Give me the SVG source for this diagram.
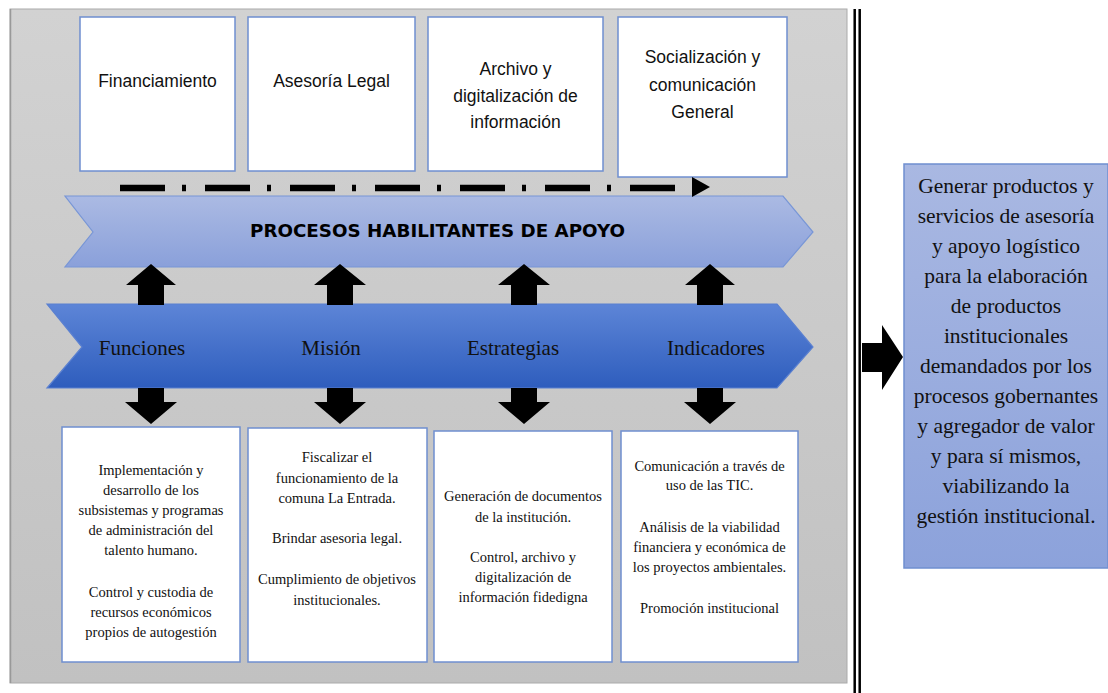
<svg xmlns="http://www.w3.org/2000/svg" width="1108" height="693" viewBox="0 0 1108 693">
<defs>
<linearGradient id="gFrame" x1="0" y1="0" x2="0" y2="1"><stop offset="0" stop-color="#d2d2d2"/><stop offset="1" stop-color="#c1c1c1"/></linearGradient>
<linearGradient id="gTop" x1="0" y1="0" x2="0" y2="1"><stop offset="0" stop-color="#abbae3"/><stop offset="1" stop-color="#8aa0da"/></linearGradient>
<linearGradient id="gMid" x1="0" y1="0" x2="0" y2="1"><stop offset="0" stop-color="#5d85d7"/><stop offset="1" stop-color="#2e5dbd"/></linearGradient>
<linearGradient id="gRight" x1="0" y1="0" x2="0" y2="1"><stop offset="0" stop-color="#a9b8e2"/><stop offset="1" stop-color="#8ca2db"/></linearGradient>
</defs>
<style>
.box{fill:#fff;stroke:#6f8fd0;stroke-width:1.5}
.tl{font-family:"Liberation Sans",Arial,sans-serif;font-size:17.5px;fill:#111;text-anchor:middle}
.sv{font-family:"Liberation Serif","Times New Roman",serif;font-size:14.5px;fill:#111;text-anchor:middle}
.lab{font-family:"Liberation Serif","Times New Roman",serif;font-size:21px;fill:#111;text-anchor:middle}
.rt{font-family:"Liberation Serif","Times New Roman",serif;font-size:21.5px;fill:#111;text-anchor:middle}
.ttl{font-family:"DejaVu Sans",sans-serif;font-weight:bold;font-size:17px;fill:#000;text-anchor:middle}
.blk{fill:#000}
</style>
<rect width="1108" height="693" fill="#fff"/>
<g id="frame">
<rect x="10" y="9" width="837" height="674" fill="url(#gFrame)" stroke="#aaaaaa" stroke-width="1"/>
<line x1="10.5" y1="9" x2="10.5" y2="683" stroke="#999" stroke-width="1.5"/>
<line x1="854.7" y1="9" x2="854.7" y2="693" stroke="#000" stroke-width="2.5"/>
<line x1="859.7" y1="9" x2="859.7" y2="693" stroke="#000" stroke-width="2.5"/>
</g>
<g id="n-financiamiento"><rect class="box" x="80" y="17" width="155" height="154"/><text class="tl" x="157.5" y="87">Financiamiento</text></g>
<g id="n-asesoria"><rect class="box" x="248" y="17" width="167" height="154"/><text class="tl" x="331.5" y="87">Asesoría Legal</text></g>
<g id="n-archivo"><rect class="box" x="428" y="17" width="175" height="154"/><text class="tl" x="515.5"><tspan x="515.5" y="75">Archivo y</tspan><tspan x="515.5" y="102">digitalización de</tspan><tspan x="515.5" y="128">información</tspan></text></g>
<g id="n-socializacion"><rect class="box" x="618" y="17" width="169" height="160"/><text class="tl" x="702.5"><tspan x="702.5" y="63">Socialización y</tspan><tspan x="702.5" y="91">comunicación</tspan><tspan x="702.5" y="118">General</tspan></text></g>
<g id="n-procesos"><path d="M65,196 L783,196 L813,232 L783,267 L65,267 L93,232 Z" fill="url(#gTop)" stroke="#7896d6" stroke-width="1.2"/><text class="ttl" x="437.5" y="237" textLength="375" lengthAdjust="spacingAndGlyphs">PROCESOS HABILITANTES  DE APOYO</text></g>
<g id="n-ejes"><path d="M47,304 L777,304 L813,347 L777,388 L47,388 L82,347 Z" fill="url(#gMid)" stroke="#5b80d0" stroke-width="1.2"/>
<text class="lab" x="142" y="355">Funciones</text>
<text class="lab" x="331" y="355">Misión</text>
<text class="lab" x="513" y="355">Estrategias</text>
<text class="lab" x="716" y="355">Indicadores</text></g>
<g id="n-funciones"><rect class="box" x="62" y="427" width="178" height="235"/>
<text class="sv"><tspan x="151" y="475">Implementación y</tspan><tspan x="151" y="495">desarrollo de los</tspan><tspan x="151" y="515">subsistemas y programas</tspan><tspan x="151" y="535">de administración del</tspan><tspan x="151" y="555">talento humano.</tspan><tspan x="151" y="597">Control y custodia de</tspan><tspan x="151" y="617">recursos económicos</tspan><tspan x="151" y="637">propios de autogestión</tspan></text></g>
<g id="n-mision"><rect class="box" x="248" y="428" width="179" height="234"/>
<text class="sv"><tspan x="337" y="462">Fiscalizar el</tspan><tspan x="337" y="483">funcionamiento de la</tspan><tspan x="337" y="503">comuna La Entrada.</tspan><tspan x="337" y="543">Brindar asesoria legal.</tspan><tspan x="337" y="584">Cumplimiento  de objetivos</tspan><tspan x="337" y="605">institucionales.</tspan></text></g>
<g id="n-estrategias"><rect class="box" x="434" y="431" width="178" height="231"/>
<text class="sv"><tspan x="523" y="501">Generación de documentos</tspan><tspan x="523" y="522">de la institución.</tspan><tspan x="523" y="562">Control, archivo y</tspan><tspan x="523" y="582">digitalización  de</tspan><tspan x="523" y="602">información fidedigna</tspan></text></g>
<g id="n-indicadores"><rect class="box" x="621" y="431" width="177" height="231"/>
<text class="sv"><tspan x="709.5" y="471">Comunicación a través de</tspan><tspan x="709.5" y="490">uso de las TIC.</tspan><tspan x="709.5" y="532">Análisis de la viabilidad</tspan><tspan x="709.5" y="552">financiera y económica de</tspan><tspan x="709.5" y="572">los proyectos ambientales.</tspan><tspan x="709.5" y="613">Promoción institucional</tspan></text></g>
<g id="n-resultado"><rect x="904" y="164" width="204" height="404" fill="url(#gRight)" stroke="#6f8fd0" stroke-width="1.5"/>
<text class="rt"><tspan x="1006" y="193">Generar productos y</tspan><tspan x="1006" y="223">servicios de asesoría</tspan><tspan x="1006" y="253">y apoyo logístico</tspan><tspan x="1006" y="283">para la elaboración</tspan><tspan x="1006" y="313">de productos</tspan><tspan x="1006" y="343">institucionales</tspan><tspan x="1006" y="373">demandados por los</tspan><tspan x="1006" y="403">procesos gobernantes</tspan><tspan x="1006" y="433">y agregador  de valor</tspan><tspan x="1006" y="463">y para sí mismos,</tspan><tspan x="1006" y="493">viabilizando  la</tspan><tspan x="1006" y="523">gestión institucional.</tspan></text></g>
<g id="connectors">
<line x1="120" y1="188" x2="690" y2="188" stroke="#000" stroke-width="6.5" stroke-dasharray="45 17 4 19"/>
<path d="M692,177 L710,187 L692,197 Z" class="blk"/>
<path class="blk" d="M138,305 L138,285 L126,285 L151,264 L176,285 L164,285 L164,305 Z"/>
<path class="blk" d="M327,305 L327,285 L314,285 L340,264 L366,285 L353,285 L353,305 Z"/>
<path class="blk" d="M511,305 L511,285 L498,285 L524,264 L550,285 L537,285 L537,305 Z"/>
<path class="blk" d="M697,305 L697,285 L685,285 L710,264 L735,285 L723,285 L723,305 Z"/>
<path class="blk" d="M138,388 L138,402 L125,402 L151,424 L177,402 L164,402 L164,388 Z"/>
<path class="blk" d="M327,388 L327,402 L314,402 L340,424 L366,402 L353,402 L353,388 Z"/>
<path class="blk" d="M511,388 L511,402 L498,402 L524,424 L550,402 L537,402 L537,388 Z"/>
<path class="blk" d="M697,388 L697,402 L684,402 L710,424 L736,402 L723,402 L723,388 Z"/>
<path class="blk" d="M862,343 L882,343 L882,325 L903,357 L882,390 L882,372 L862,372 Z"/>
</g>
</svg>
